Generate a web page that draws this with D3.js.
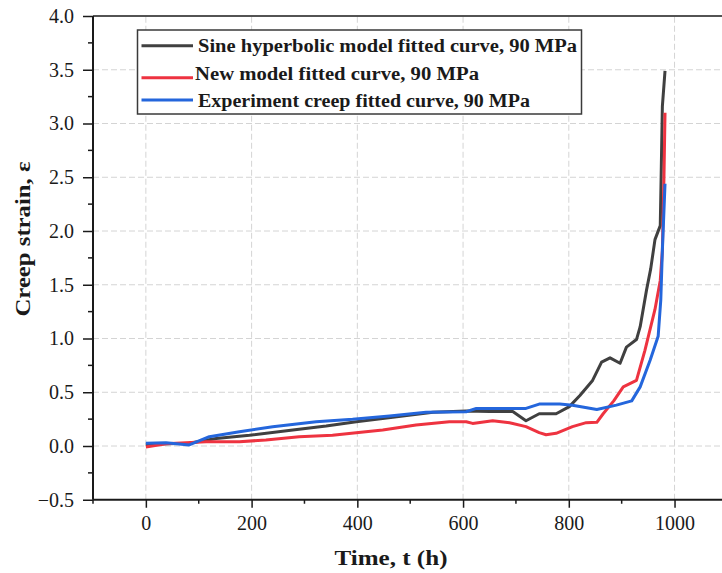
<!DOCTYPE html>
<html>
<head>
<meta charset="utf-8">
<script src="https://cdn.jsdelivr.net/npm/d3@7"></script>
<style>
  html, body { margin: 0; padding: 0; background: #fff; }
  svg { display: block; }
  text { font-family: "Liberation Serif", "Times New Roman", serif; fill: #1a1a1a; }
</style>
</head>
<body>
<div id="chart"></div>
<script>
// series: time (h) and creep strain
const sineTime   = [0, 40, 82, 133, 196, 278, 341, 398, 467, 543, 606, 650, 694, 719, 744, 776, 801, 821, 845, 862, 878, 897, 909, 928, 935, 947, 955, 963, 973, 975, 977, 982];
const sineStrain = [0.015, 0.02, 0.025, 0.07, 0.10, 0.149, 0.186, 0.226, 0.267, 0.313, 0.325, 0.32, 0.32, 0.235, 0.30, 0.30, 0.366, 0.47, 0.61, 0.78, 0.82, 0.77, 0.92, 0.99, 1.11, 1.45, 1.65, 1.92, 2.05, 2.6, 3.16, 3.49];

const newTime   = [0, 38, 76, 114, 177, 227, 290, 353, 416, 448, 511, 574, 606, 618, 656, 688, 719, 744, 757, 776, 807, 833, 853, 865, 885, 903, 928, 944, 963, 973, 977, 980, 982];
const newStrain = [-0.01, 0.02, 0.03, 0.04, 0.04, 0.056, 0.087, 0.10, 0.133, 0.149, 0.195, 0.226, 0.226, 0.21, 0.235, 0.217, 0.18, 0.124, 0.105, 0.118, 0.18, 0.217, 0.22, 0.30, 0.42, 0.55, 0.61, 0.89, 1.27, 1.54, 1.82, 2.5, 3.1];

const expTime   = [0, 38, 82, 120, 177, 240, 322, 391, 461, 530, 606, 625, 719, 744, 783, 807, 853, 890, 919, 935, 954, 969, 974, 977, 982];
const expStrain = [0.025, 0.03, 0.01, 0.087, 0.133, 0.18, 0.226, 0.248, 0.279, 0.313, 0.319, 0.35, 0.35, 0.39, 0.39, 0.38, 0.34, 0.38, 0.42, 0.55, 0.8, 1.02, 1.36, 1.82, 2.44];

const seriesNames = [
  "Sine hyperbolic model fitted curve, 90 MPa",
  "New model fitted curve, 90 MPa",
  "Experiment creep fitted curve, 90 MPa"
];
const seriesColors = ["#404040", "#ee3340", "#2466dc"];

const xTicks = [0, 200, 400, 600, 800, 1000];
const yTicks = [-0.5, 0, 0.5, 1, 1.5, 2, 2.5, 3, 3.5, 4];

const width = 722, height = 573;
const svg = d3.select("#chart").append("svg").attr("width", width).attr("height", height);

const x = d3.scaleLinear().domain([-100, 1100]).range([93, 727.4]);
const y = d3.scaleLinear().domain([-0.5, 4]).range([499.75, 16]);

// grid
const grid = svg.append("g").attr("stroke", "#d4d4d4").attr("stroke-width", 1).attr("stroke-dasharray", "6,3");
grid.selectAll(".gx").data(xTicks).join("line")
  .attr("x1", d => x(d)).attr("x2", d => x(d)).attr("y1", y(-0.5)).attr("y2", y(4));
grid.selectAll(".gy").data(yTicks.filter(d => d > -0.5 && d < 4)).join("line")
  .attr("x1", x(-100)).attr("x2", x(1100)).attr("y1", d => y(d)).attr("y2", d => y(d));

// axes
const xAxis = d3.axisBottom(x).tickValues(xTicks).tickSize(8).tickPadding(8).tickFormat(d3.format("d"));
const gx = svg.append("g").attr("transform", `translate(0,${y(-0.5)})`).call(xAxis);
gx.select(".domain").remove();
gx.selectAll(".tick line").attr("stroke", "#1a1a1a").attr("stroke-width", 1.5);
gx.selectAll(".tick text").attr("font-size", 20).attr("font-family", "Liberation Serif").attr("fill", "#1a1a1a");
gx.selectAll(".minor").data(d3.range(-100, 1101, 200)).join("line").attr("class", "minor")
  .attr("x1", d => x(d)).attr("x2", d => x(d)).attr("y1", 0).attr("y2", 4)
  .attr("stroke", "#1a1a1a").attr("stroke-width", 1.5);

const yAxis = d3.axisLeft(y).tickValues(yTicks).tickSize(10).tickPadding(9).tickFormat(d3.format(".1f"));
const gy = svg.append("g").attr("transform", `translate(${x(-100)},0)`).call(yAxis);
gy.select(".domain").remove();
gy.selectAll(".tick line").attr("stroke", "#1a1a1a").attr("stroke-width", 1.5);
gy.selectAll(".tick text").attr("font-size", 20).attr("font-family", "Liberation Serif").attr("fill", "#1a1a1a");
gy.selectAll(".minor").data(d3.range(-0.25, 4, 0.5)).join("line").attr("class", "minor")
  .attr("x1", 0).attr("x2", -5).attr("y1", d => y(d)).attr("y2", d => y(d))
  .attr("stroke", "#1a1a1a").attr("stroke-width", 1.5);

// frame lines
svg.append("line").attr("x1", x(-100)).attr("x2", x(1100)).attr("y1", y(-0.5)).attr("y2", y(-0.5))
  .attr("stroke", "#1a1a1a").attr("stroke-width", 2);
svg.append("line").attr("x1", x(-100)).attr("x2", x(-100)).attr("y1", y(-0.5)).attr("y2", y(4))
  .attr("stroke", "#1a1a1a").attr("stroke-width", 2);
svg.append("line").attr("x1", x(-100)).attr("x2", x(1100)).attr("y1", y(4)).attr("y2", y(4))
  .attr("stroke", "#1a1a1a").attr("stroke-width", 1.5);

// curves
const line = d3.line().x(d => x(d[0])).y(d => y(d[1]));
const series = [
  d3.zip(sineTime, sineStrain),
  d3.zip(newTime, newStrain),
  d3.zip(expTime, expStrain)
];
svg.append("g").selectAll("path").data(series).join("path")
  .attr("d", line)
  .attr("fill", "none")
  .attr("stroke", (d, i) => seriesColors[i])
  .attr("stroke-width", 3)
  .attr("stroke-linejoin", "round");

// legend
const legend = svg.append("g");
legend.append("rect").attr("x", 137.5).attr("y", 30).attr("width", 444).attr("height", 84)
  .attr("fill", "#fff").attr("stroke", "#3a3a3a").attr("stroke-width", 1.5);
const rowsY = [45.7, 77.7, 100];
const textY = [51.8, 80.3, 106.8];
const textLen = [379, 284, 332];
seriesNames.forEach((name, i) => {
  legend.append("line").attr("x1", 141.5).attr("x2", 193).attr("y1", rowsY[i]).attr("y2", rowsY[i])
    .attr("stroke", seriesColors[i]).attr("stroke-width", 3);
  legend.append("text").attr("x", i === 1 ? 195 : 198).attr("y", textY[i])
    .attr("font-size", 18).attr("font-weight", "bold")
    .attr("textLength", textLen[i]).attr("lengthAdjust", "spacingAndGlyphs")
    .text(name);
});

// axis titles
svg.append("text").attr("x", 391).attr("y", 565).attr("text-anchor", "middle")
  .attr("font-size", 22).attr("font-weight", "bold")
  .attr("textLength", 113).attr("lengthAdjust", "spacingAndGlyphs")
  .text("Time, t (h)");
svg.append("text").attr("transform", "translate(30,239) rotate(-90)").attr("text-anchor", "middle")
  .attr("font-size", 22).attr("font-weight", "bold")
  .attr("textLength", 155).attr("lengthAdjust", "spacingAndGlyphs")
  .text("Creep strain, ε");
</script>
</body>
</html>
